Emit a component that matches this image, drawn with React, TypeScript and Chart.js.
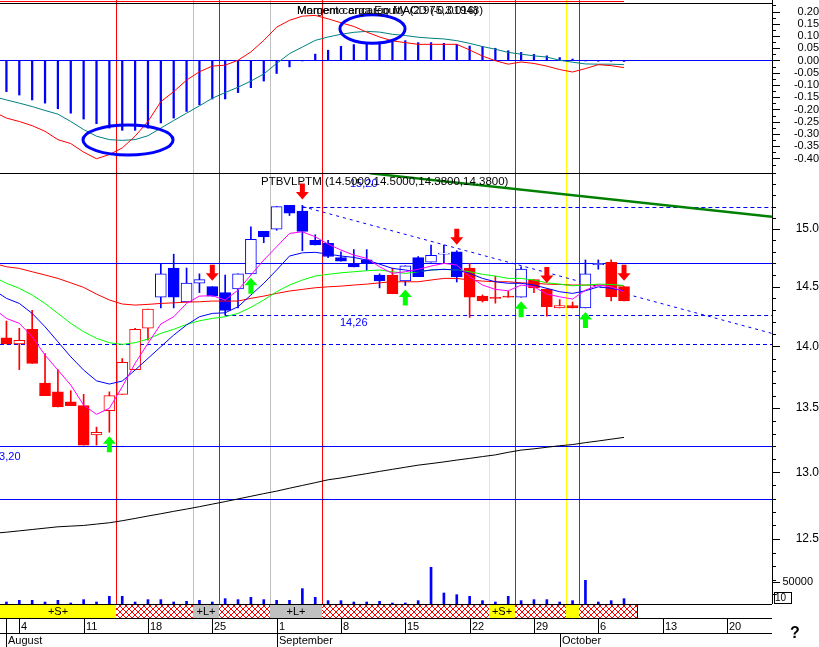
import React, { useEffect, useRef } from 'react';
import { Chart, registerables } from 'chart.js';

Chart.register(...registerables);

// ---------------- data ----------------
const symbol = 'PTBVLPTM';
const tradingDays = [
  'Aug 1', 'Aug 4', 'Aug 5', 'Aug 6', 'Aug 7', 'Aug 8',
  'Aug 11', 'Aug 12', 'Aug 13', 'Aug 14', 'Aug 15',
  'Aug 18', 'Aug 19', 'Aug 20', 'Aug 21', 'Aug 22',
  'Aug 25', 'Aug 26', 'Aug 27', 'Aug 28', 'Aug 29',
  'Sep 1', 'Sep 2', 'Sep 3', 'Sep 4', 'Sep 5',
  'Sep 8', 'Sep 9', 'Sep 10', 'Sep 11', 'Sep 12',
  'Sep 15', 'Sep 16', 'Sep 17', 'Sep 18', 'Sep 19',
  'Sep 22', 'Sep 23', 'Sep 24', 'Sep 25', 'Sep 26',
  'Sep 29', 'Sep 30', 'Oct 1', 'Oct 2', 'Oct 3',
  'Oct 6', 'Oct 7', 'Oct 8',
];
const axisSlots = 60; // trading-day slots on the time axis (through Oct 23)

const weekLabels = ['4', '11', '18', '25', '1', '8', '15', '22', '29', '6', '13', '20'];
const weekIndex = [1, 6, 11, 16, 21, 26, 31, 36, 41, 46, 51, 56];
const monthLabels = ['August', 'September', 'October'];
const monthIndex = [0, 21, 43];

const open = [14.07, 14.02, 14.14, 13.70, 13.63, 13.55, 13.52, 13.29, 13.48, 13.61, 13.81, 14.15, 14.41, 14.66, 14.37, 14.53, 14.50, 14.45, 14.48, 14.61, 14.98, 15.00, 15.21, 15.16, 14.90, 14.875, 14.75, 14.70, 14.73, 14.60, 14.60, 14.55, 14.75, 14.71, 14.78, 14.80, 14.66, 14.42, 14.41, 14.42, 14.41, 14.56, 14.48, 14.32, 14.34, 14.32, 14.69, 14.71, 14.50];
const high = [14.21, 14.15, 14.30, 13.94, 13.81, 13.64, 13.61, 13.35, 13.63, 13.90, 14.15, 14.31, 14.70, 14.78, 14.66, 14.61, 14.50, 14.60, 14.61, 15.02, 14.98, 15.20, 15.21, 15.21, 14.95, 14.90, 14.80, 14.82, 14.82, 14.61, 14.66, 14.68, 14.76, 14.86, 14.86, 14.81, 14.70, 14.43, 14.59, 14.46, 14.67, 14.56, 14.48, 14.39, 14.37, 14.73, 14.73, 14.73, 14.50];
const low = [14.02, 13.81, 13.86, 13.60, 13.51, 13.52, 13.21, 13.21, 13.31, 13.61, 13.81, 14.05, 14.32, 14.32, 14.37, 14.45, 14.42, 14.26, 14.32, 14.61, 14.88, 14.99, 15.12, 14.81, 14.86, 14.75, 14.72, 14.67, 14.64, 14.49, 14.44, 14.51, 14.585, 14.71, 14.70, 14.54, 14.24, 14.37, 14.36, 14.41, 14.41, 14.45, 14.25, 14.32, 14.32, 14.32, 14.65, 14.38, 14.38];
const close = [14.02, 14.05, 13.86, 13.60, 13.51, 13.52, 13.21, 13.31, 13.60, 13.87, 14.14, 14.31, 14.61, 14.41, 14.53, 14.56, 14.42, 14.30, 14.61, 14.91, 14.93, 15.20, 15.14, 14.98, 14.86, 14.76, 14.72, 14.67, 14.70, 14.55, 14.44, 14.68, 14.585, 14.77, 14.79, 14.585, 14.41, 14.38, 14.40, 14.41, 14.65, 14.49, 14.33, 14.34, 14.32, 14.61, 14.70, 14.415, 14.38];
// trend colouring of each candle: R = red, B = blue
const trend = ['R', 'R', 'R', 'R', 'R', 'R', 'R', 'R', 'R', 'R', 'R', 'R', 'B', 'B', 'B', 'B', 'B', 'B', 'B', 'B', 'B', 'B', 'B', 'B', 'B', 'B', 'B', 'B', 'B', 'B', 'R', 'B', 'B', 'B', 'B', 'B', 'R', 'R', 'R', 'R', 'B', 'R', 'R', 'R', 'R', 'B', 'B', 'R', 'R'];
const volume = [4500, 8300, 8300, 4500, 8300, 2300, 9900, 4500, 17400, 17400, 4500, 9900, 9900, 4500, 6100, 8300, 4500, 12100, 9900, 15200, 9900, 8300, 8300, 34900, 15200, 7600, 7600, 4500, 4500, 6100, 2300, 2300, 7600, 83400, 25000, 21200, 17400, 7600, 4500, 17400, 7600, 9900, 9900, 4500, 7600, 53800, 4500, 7600, 12100];

// moving averages: first value sits at the left edge of the plot, then one per trading day
const maFast = [14.274, 14.232, 14.191, 14.079, 13.928, 13.806, 13.685, 13.525, 13.451, 13.499, 13.671, 13.861, 14.025, 14.185, 14.246, 14.358, 14.420, 14.423, 14.387, 14.471, 14.600, 14.729, 14.845, 14.962, 14.976, 14.932, 14.868, 14.816, 14.772, 14.744, 14.671, 14.614, 14.628, 14.649, 14.677, 14.700, 14.686, 14.585, 14.514, 14.477, 14.465, 14.514, 14.499, 14.437, 14.414, 14.395, 14.471, 14.514, 14.499, 14.457];
const maMid = [14.437, 14.401, 14.358, 14.274, 14.162, 14.038, 13.914, 13.806, 13.719, 13.693, 13.717, 13.806, 13.901, 13.997, 14.093, 14.177, 14.246, 14.274, 14.279, 14.330, 14.429, 14.529, 14.643, 14.764, 14.792, 14.796, 14.781, 14.764, 14.752, 14.729, 14.694, 14.657, 14.643, 14.628, 14.643, 14.649, 14.643, 14.614, 14.571, 14.542, 14.529, 14.529, 14.514, 14.486, 14.457, 14.443, 14.465, 14.499, 14.486, 14.465];
const maSlow = [14.557, 14.529, 14.486, 14.429, 14.358, 14.274, 14.191, 14.121, 14.066, 14.030, 14.016, 14.030, 14.060, 14.107, 14.141, 14.182, 14.212, 14.232, 14.246, 14.274, 14.325, 14.387, 14.457, 14.514, 14.557, 14.591, 14.606, 14.619, 14.628, 14.637, 14.643, 14.628, 14.614, 14.628, 14.643, 14.649, 14.643, 14.628, 14.606, 14.591, 14.571, 14.571, 14.557, 14.533, 14.522, 14.508, 14.514, 14.522, 14.519, 14.511];
const maTrend = [14.686, 14.671, 14.657, 14.628, 14.600, 14.571, 14.533, 14.494, 14.437, 14.387, 14.353, 14.344, 14.350, 14.358, 14.363, 14.369, 14.372, 14.378, 14.378, 14.378, 14.401, 14.420, 14.443, 14.463, 14.477, 14.491, 14.499, 14.505, 14.514, 14.522, 14.533, 14.542, 14.542, 14.542, 14.557, 14.571, 14.571, 14.557, 14.548, 14.542, 14.542, 14.533, 14.529, 14.522, 14.519, 14.514, 14.514, 14.514, 14.511, 14.508];
const maLong = [12.546, 12.55, 12.56, 12.57, 12.58, 12.59, 12.595, 12.60, 12.61, 12.62, 12.635, 12.652, 12.67, 12.687, 12.705, 12.722, 12.740, 12.759, 12.778, 12.798, 12.818, 12.838, 12.857, 12.879, 12.900, 12.921, 12.943, 12.957, 12.974, 12.99, 13.007, 13.023, 13.039, 13.055, 13.067, 13.08, 13.094, 13.107, 13.121, 13.134, 13.154, 13.171, 13.181, 13.193, 13.205, 13.214, 13.229, 13.242, 13.256, 13.27];

// upper panel
const macdLine = [-0.222, -0.235, -0.249, -0.266, -0.289, -0.323, -0.339, -0.374, -0.401, -0.384, -0.357, -0.309, -0.249, -0.168, -0.127, -0.080, -0.046, -0.023, -0.019, 0.001, 0.035, 0.082, 0.136, 0.164, 0.181, 0.184, 0.170, 0.154, 0.139, 0.116, 0.096, 0.080, 0.073, 0.066, 0.066, 0.066, 0.066, 0.043, 0.018, -0.001, -0.015, -0.006, -0.012, -0.023, -0.037, -0.047, -0.033, -0.017, -0.021, -0.029];
const signalLine = [-0.154, -0.161, -0.174, -0.188, -0.204, -0.219, -0.249, -0.282, -0.309, -0.323, -0.326, -0.323, -0.307, -0.276, -0.245, -0.215, -0.185, -0.154, -0.131, -0.109, -0.084, -0.055, -0.012, 0.028, 0.055, 0.082, 0.096, 0.107, 0.115, 0.119, 0.116, 0.107, 0.102, 0.095, 0.091, 0.088, 0.081, 0.070, 0.057, 0.046, 0.033, 0.026, 0.019, 0.014, 0.001, -0.007, -0.014, -0.015, -0.015, -0.017];
const histogram = [-0.127, -0.141, -0.161, -0.174, -0.197, -0.215, -0.239, -0.258, -0.276, -0.285, -0.285, -0.276, -0.255, -0.235, -0.208, -0.181, -0.157, -0.157, -0.131, -0.111, -0.084, -0.053, -0.026, -0.002, 0.026, 0.042, 0.058, 0.065, 0.072, 0.076, 0.078, 0.081, 0.073, 0.073, 0.070, 0.066, 0.059, 0.057, 0.050, 0.040, 0.033, 0.025, 0.019, 0.012, 0.006, -0.002, -0.003, -0.003, -0.004];

// tick labels
const macdTicks = [0.2, 0.15, 0.1, 0.05, 0, -0.05, -0.1, -0.15, -0.2, -0.25, -0.3, -0.35, -0.4];
const priceTicks = [15.0, 14.5, 14.0, 13.5, 13.0, 12.5];

// signals
const buyAt = [8, 19, 31, 40, 45];
const sellAt = [16, 23, 35, 42, 48];

// event markers (slot boundaries) and their kinds
const markerAt = [8.5, 14.5, 16.5, 20.5, 24.5, 37.5, 39.5, 43.5, 44.5];
const markerKind = ['exit', 'flat', 'exit', 'flat', 'exit', 'short', 'exit', 'short', 'exit'];

// position strip
const stripFrom = [-0.5, 8.5, 14.5, 16.5, 20.5, 24.5, 37.5, 39.5, 43.5, 44.5];
const stripTo = [8.5, 14.5, 16.5, 20.5, 24.5, 37.5, 39.5, 43.5, 44.5, 49.0];
const stripKind = ['S', 'X', 'L', 'X', 'L', 'X', 'S', 'X', 's', 'X'];

// price levels
const levelPrice = [15.20, 14.70, 14.26, 14.02, 13.20, 12.80];
const levelFrom = [23, -0.5, 17, -0.5, -0.5, -0.5];
const levelDashed = [true, false, true, true, false, false];
const levelTag = ['15,20', '', '14,26', '', '13,20', ''];

// trend lines (slot, price)
const greenTrendX = [28.26, 59.5];
const greenTrendY = [15.50, 15.11];
const dotTrendX = [23, 59.5];
const dotTrendY = [15.20, 14.107];

// ellipses in upper panel (centre slot, centre value, half width in slots, half height in value)
const ellipseX = [9.45, 28.45];
const ellipseY = [-0.3245, 0.1286];
const ellipseRX = [3.5, 2.53];
const ellipseRY = [0.061, 0.058];

// ---------------- styling ----------------
const FONT = '"Liberation Sans", Arial, sans-serif';
const RED = '#ff0000';
const BLUE = '#0000ff';
const MARKER_COLORS: any = { exit: '#ff0000', flat: '#c0c0c0', short: '#ffff00' };
const TAG_POS: any = { '15,20': [350, -23], '14,26': [340, 8], '13,20': [-7, 11] };

const crisp = (v: number) => Math.round(v) + 0.5;
const edgePoints = (arr: number[]) =>
  arr.map((v, i) => ({ x: i === 0 ? -0.5 : i - 1, y: v }));

function makeHatch(ctx: CanvasRenderingContext2D) {
  const c = document.createElement('canvas');
  c.width = 6;
  c.height = 6;
  const g = c.getContext('2d')!;
  g.fillStyle = '#ffffff';
  g.fillRect(0, 0, 6, 6);
  g.fillStyle = RED;
  for (let i = 0; i < 6; i++) {
    g.fillRect(i, i, 1, 1);
    g.fillRect(5 - i, i, 1, 1);
  }
  return ctx.createPattern(c, 'repeat');
}

function arrow(ctx: CanvasRenderingContext2D, cx: number, tipY: number, dir: number) {
  // dir = 1: tip on top (up arrow), dir = -1: tip at bottom (down arrow)
  const p = (dx: number, dy: number) => [cx + dx, tipY + dir * dy];
  const pts = [p(0, 0), p(6.5, 7.5), p(2.5, 7.5), p(2.5, 16), p(-2.5, 16), p(-2.5, 7.5), p(-6.5, 7.5)];
  ctx.beginPath();
  ctx.moveTo(pts[0][0], pts[0][1]);
  for (let i = 1; i < pts.length; i++) ctx.lineTo(pts[i][0], pts[i][1]);
  ctx.closePath();
  ctx.fill();
}

const overlay: any = {
  id: 'overlay',
  beforeDraw(chart: any) {
    const { ctx, width, height } = chart;
    ctx.save();
    ctx.fillStyle = '#ffffff';
    ctx.fillRect(0, 0, width, height);
    ctx.restore();
  },
  beforeDatasetsDraw(chart: any) {
    const { ctx, chartArea, scales } = chart;
    const xs = scales.x, ms = scales.macd, ps = scales.price;
    ctx.save();
    ctx.lineWidth = 1;
    markerAt.forEach((m, k) => {
      const px = crisp(xs.getPixelForValue(m));
      ctx.strokeStyle = MARKER_COLORS[markerKind[k]];
      ctx.beginPath();
      ctx.moveTo(px, 0);
      ctx.lineTo(px, chartArea.bottom);
      ctx.stroke();
    });
    ctx.strokeStyle = BLUE;
    const zy = crisp(ms.getPixelForValue(0));
    ctx.beginPath();
    ctx.moveTo(chartArea.left, zy);
    ctx.lineTo(chartArea.right, zy);
    ctx.stroke();
    levelPrice.forEach((p, k) => {
      const y = crisp(ps.getPixelForValue(p));
      ctx.setLineDash(levelDashed[k] ? [4, 3] : []);
      ctx.beginPath();
      ctx.moveTo(Math.max(chartArea.left, xs.getPixelForValue(levelFrom[k])), y);
      ctx.lineTo(chartArea.right, y);
      ctx.stroke();
    });
    ctx.setLineDash([]);
    ctx.restore();
  },
  afterDatasetsDraw(chart: any) {
    const { ctx, scales } = chart;
    const xs = scales.x, ms = scales.macd, ps = scales.price;
    ctx.save();
    // ellipses
    ctx.strokeStyle = BLUE;
    ctx.lineWidth = 3;
    ellipseX.forEach((ex, k) => {
      const cx = xs.getPixelForValue(ex);
      const cy = ms.getPixelForValue(ellipseY[k]);
      const rx = Math.abs(xs.getPixelForValue(ex + ellipseRX[k]) - cx);
      const ry = Math.abs(ms.getPixelForValue(ellipseY[k] + ellipseRY[k]) - cy);
      ctx.beginPath();
      ctx.ellipse(cx, cy, rx, ry, 0, 0, Math.PI * 2);
      ctx.stroke();
    });
    // arrows
    ctx.fillStyle = '#00ff00';
    buyAt.forEach((i) => arrow(ctx, xs.getPixelForValue(i), ps.getPixelForValue(low[i]) + 4, 1));
    ctx.fillStyle = RED;
    sellAt.forEach((i) => arrow(ctx, xs.getPixelForValue(i), ps.getPixelForValue(high[i]) - 6, -1));
    // level tags
    ctx.font = `11px ${FONT}`;
    ctx.fillStyle = BLUE;
    ctx.textBaseline = 'middle';
    ctx.textAlign = 'left';
    levelTag.forEach((t, k) => {
      if (!t) return;
      const [tx, dy] = TAG_POS[t];
      ctx.fillText(t, tx, ps.getPixelForValue(levelPrice[k]) + dy);
    });
    // titles
    const n = open.length - 1;
    ctx.fillStyle = '#000000';
    ctx.font = `11.5px ${FONT}`;
    ctx.fillText(
      `${symbol} (${open[n].toFixed(4)},${high[n].toFixed(4)},${low[n].toFixed(4)},${close[n].toFixed(4)})`,
      261, ps.top + 9,
    );
    ctx.fillText('Margem carga Equity (2.975,3.016)', 297, ms.top + 8);
    ctx.fillText('Momento encargo MACD (-0.01948)', 297, ms.top + 8);
    ctx.restore();
  },
  afterDraw(chart: any) {
    const { ctx, chartArea, scales } = chart;
    const xs = scales.x, ms = scales.macd, ps = scales.price, vs = scales.vol;
    const L = chartArea.left, R = chartArea.right, B = chartArea.bottom;
    const rowA = B + 14, rowB = B + 29, rowC = chart.height;
    ctx.save();
    ctx.lineWidth = 1;
    // thin equity strip along the very top
    ctx.strokeStyle = RED;
    ctx.beginPath();
    ctx.moveTo(L, 1.5);
    ctx.lineTo(xs.getPixelForValue(open.length - 1), 1.5);
    ctx.stroke();
    // position strip
    const hatch = makeHatch(ctx);
    stripFrom.forEach((f, k) => {
      const x0 = Math.round(xs.getPixelForValue(f));
      const x1 = Math.round(xs.getPixelForValue(stripTo[k]));
      const kind = stripKind[k];
      ctx.fillStyle = kind === 'X' ? hatch : kind === 'L' ? '#c0c0c0' : '#ffff00';
      ctx.fillRect(x0, B, x1 - x0, rowA - B);
      ctx.strokeStyle = '#000000';
      ctx.beginPath();
      ctx.moveTo(x1 + 0.5, B);
      ctx.lineTo(x1 + 0.5, rowA);
      ctx.stroke();
      if (kind === 'S' || kind === 'L') {
        ctx.fillStyle = '#000000';
        ctx.font = `11px ${FONT}`;
        ctx.textAlign = 'center';
        ctx.textBaseline = 'middle';
        ctx.fillText(kind === 'S' ? '+S+' : '+L+', (x0 + x1) / 2, (B + rowA) / 2 + 1);
      }
    });
    // frame lines
    ctx.strokeStyle = '#000000';
    const hline = (y: number, x0: number, x1: number) => {
      ctx.beginPath();
      ctx.moveTo(x0, crisp(y));
      ctx.lineTo(x1, crisp(y));
      ctx.stroke();
    };
    const vline = (x: number, y0: number, y1: number) => {
      ctx.beginPath();
      ctx.moveTo(crisp(x), y0);
      ctx.lineTo(crisp(x), y1);
      ctx.stroke();
    };
    hline(ms.top, L, R);
    hline(ps.top, L, R);
    hline(B, L, R);
    hline(rowA, L, R);
    hline(rowB, L, R);
    vline(R, 0, B);
    // date axis
    ctx.fillStyle = '#000000';
    ctx.font = `11px ${FONT}`;
    ctx.textAlign = 'left';
    ctx.textBaseline = 'middle';
    vline(xs.getPixelForValue(0), rowA, rowB);
    weekIndex.forEach((w, k) => {
      const px = xs.getPixelForValue(w);
      if (px > R) return;
      vline(px, rowA, rowB);
      ctx.fillText(weekLabels[k], Math.round(px) + 2, (rowA + rowB) / 2 + 1);
    });
    monthIndex.forEach((m, k) => {
      const px = xs.getPixelForValue(m);
      vline(px, rowB, rowC);
      ctx.fillText(monthLabels[k], Math.round(px) + 2, (rowB + rowC) / 2 + 1);
    });
    // right axis tick marks
    const mark = (y: number, len: number) => {
      ctx.beginPath();
      ctx.moveTo(R, crisp(y));
      ctx.lineTo(R + len, crisp(y));
      ctx.stroke();
    };
    macdTicks.forEach((v) => {
      mark(ms.getPixelForValue(v), 8);
      mark(ms.getPixelForValue(v - 0.025), 4);
    });
    mark(ms.getPixelForValue(0.225), 4);
    for (let p = 12.1; p <= 15.51; p += 0.1) {
      const isMajor = priceTicks.some((t) => Math.abs(t - p) < 0.001);
      mark(ps.getPixelForValue(p), isMajor ? 8 : 4);
    }
    // volume scale label
    const vy = vs.getPixelForValue(50000);
    mark(vy, 8);
    ctx.textAlign = 'right';
    ctx.fillText('50000', 813, vy);
    ctx.strokeRect(774.5, B - 11.5, 17, 11);
    ctx.textAlign = 'left';
    ctx.font = `10px ${FONT}`;
    ctx.fillText('10', 775, B - 5.5);
    // help glyph
    ctx.font = `bold 16px ${FONT}`;
    ctx.textAlign = 'center';
    ctx.fillText('?', 795, 634);
    ctx.restore();
  },
};

function buildConfig() {
  const candleColor = trend.map((t) => (t === 'R' ? RED : BLUE));
  const bodyFill = open.map((o, i) => (close[i] > o ? '#ffffff' : candleColor[i]));
  const lineDs = (label: string, data: any[], color: string, axis: string, order: number, extra: any = {}) => ({
    type: 'line', label, data, yAxisID: axis, borderColor: color, borderWidth: 1,
    pointRadius: 0, tension: 0, fill: false, order, ...extra,
  });
  return {
    type: 'bar',
    data: {
      labels: tradingDays,
      datasets: [
        { type: 'bar', label: 'Volume', data: volume.map((v, i) => ({ x: i, y: v })), yAxisID: 'vol', backgroundColor: BLUE, grouped: false, barPercentage: 1, categoryPercentage: 1, maxBarThickness: 2, order: 20 },
        { type: 'bar', label: 'Histogram', data: histogram.map((v, i) => ({ x: i, y: v })), yAxisID: 'macd', backgroundColor: BLUE, grouped: false, barPercentage: 1, categoryPercentage: 1, maxBarThickness: 1.6, order: 20 },
        lineDs('Long MA', edgePoints(maLong), '#000000', 'price', 15),
        lineDs('Resistance', greenTrendX.map((x, i) => ({ x, y: greenTrendY[i] })), '#008000', 'price', 14, { borderWidth: 2.5 }),
        lineDs('Down trend', dotTrendX.map((x, i) => ({ x, y: dotTrendY[i] })), BLUE, 'price', 14, { borderDash: [3, 4] }),
        { type: 'bar', label: 'Range', data: high.map((h, i) => ({ x: i, y: [low[i], h] })), yAxisID: 'price', backgroundColor: candleColor, grouped: false, barPercentage: 1, categoryPercentage: 1, maxBarThickness: 1, order: 12 },
        { type: 'bar', label: 'Body', data: open.map((o, i) => ({ x: i, y: [Math.min(o, close[i]), Math.max(o, close[i])] })), yAxisID: 'price', backgroundColor: bodyFill, borderColor: candleColor, borderWidth: 1, borderSkipped: false, grouped: false, barPercentage: 1, categoryPercentage: 1, maxBarThickness: 11, order: 11 },
        lineDs('MA trend', edgePoints(maTrend), RED, 'price', 6),
        lineDs('MA slow', edgePoints(maSlow), '#00ff00', 'price', 5),
        lineDs('MA mid', edgePoints(maMid), BLUE, 'price', 4),
        lineDs('MA fast', edgePoints(maFast), '#ff00ff', 'price', 3),
        lineDs('Signal', edgePoints(signalLine), '#008080', 'macd', 2),
        lineDs('MACD', edgePoints(macdLine), RED, 'macd', 1),
      ],
    },
    options: {
      responsive: false,
      animation: false,
      devicePixelRatio: 1,
      events: [],
      layout: { padding: { top: 3, bottom: 43, left: 0, right: 0 } },
      plugins: { legend: { display: false }, tooltip: { enabled: false } },
      scales: {
        x: { type: 'linear', display: false, offset: false, grid: { offset: false }, min: -0.5, max: axisSlots - 0.5, bounds: 'data' },
        macd: {
          type: 'linear', position: 'right', stack: 'panels', stackWeight: 170,
          min: -0.4592, max: 0.2347, bounds: 'data',
          grid: { display: false, drawTicks: false, drawOnChartArea: false },
          border: { display: false },
          afterBuildTicks: (s: any) => { s.ticks = macdTicks.map((v) => ({ value: v })); },
          afterFit: (s: any) => { s.width = 47; s.paddingTop = 0; s.paddingBottom = 0; },
          ticks: {
            autoSkip: false, crossAlign: 'far', padding: 11, color: '#000000',
            font: { family: FONT, size: 11 },
            callback: (v: any) => Number(v).toFixed(2),
          },
        },
        price: {
          type: 'logarithmic', position: 'right', stack: 'panels', stackWeight: 431,
          min: 12.031, max: 15.503, bounds: 'data',
          grid: { display: false, drawTicks: false, drawOnChartArea: false },
          border: { display: false },
          afterBuildTicks: (s: any) => { s.ticks = priceTicks.map((v) => ({ value: v })); },
          afterFit: (s: any) => { s.width = 47; s.paddingTop = 0; s.paddingBottom = 0; },
          ticks: {
            autoSkip: false, crossAlign: 'far', padding: 13, color: '#000000',
            font: { family: FONT, size: 12 },
            callback: (v: any) => Number(v).toFixed(1),
          },
        },
        vol: { type: 'linear', display: false, position: 'right', min: 0, max: 1366000, bounds: 'data' },
      },
    },
    plugins: [overlay],
  };
}

export default function App() {
  const ref = useRef<HTMLCanvasElement>(null);
  useEffect(() => {
    document.body.style.margin = '0';
    const chart = new Chart(ref.current as HTMLCanvasElement, buildConfig() as any);
    return () => chart.destroy();
  }, []);
  return (
    <div style={{ position: 'absolute', left: 0, top: 0, width: 819, height: 647, background: '#ffffff' }}>
      <canvas ref={ref} width={819} height={647} style={{ display: 'block', width: 819, height: 647 }} />
    </div>
  );
}
